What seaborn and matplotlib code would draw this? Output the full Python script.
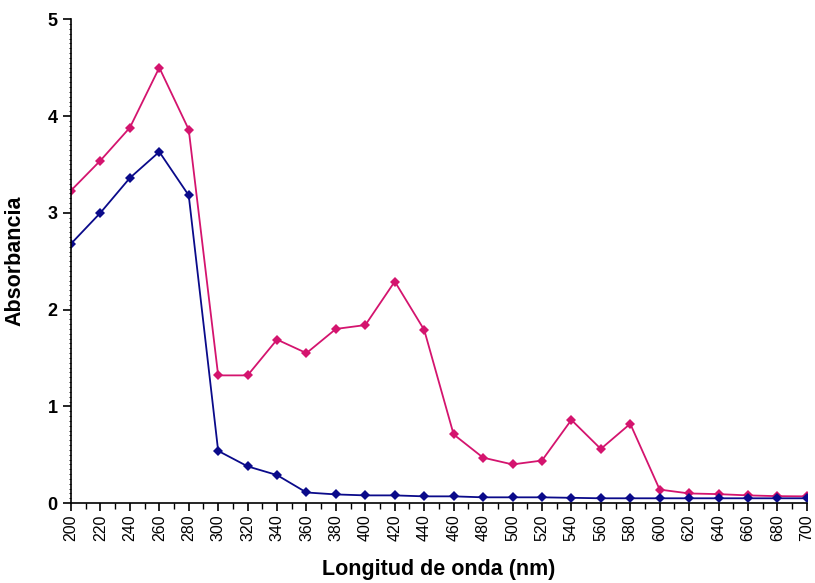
import numpy as np
import pandas as pd
import matplotlib
matplotlib.use("Agg")
import matplotlib.pyplot as plt
import seaborn as sns
from matplotlib.ticker import MultipleLocator

wavelength = list(range(200, 701, 20))

muestra_a = [3.23, 3.54, 3.88, 4.50, 3.86, 1.32, 1.32, 1.69, 1.55, 1.80,
             1.84, 2.29, 1.79, 0.71, 0.47, 0.40, 0.44, 0.86, 0.56, 0.82,
             0.14, 0.10, 0.093, 0.08, 0.072, 0.07]
muestra_b = [2.68, 3.00, 3.36, 3.63, 3.18, 0.54, 0.38, 0.29, 0.11, 0.09,
             0.08, 0.08, 0.07, 0.07, 0.06, 0.06, 0.06, 0.055, 0.05, 0.05,
             0.05, 0.05, 0.05, 0.05, 0.05, 0.05]

series_names = ["A", "B"]
series_colors = {"A": "#D4146E", "B": "#0A0A8A"}

df = pd.DataFrame({
    "Longitud de onda (nm)": wavelength * 2,
    "Absorbancia": muestra_a + muestra_b,
    "serie": ["A"] * len(wavelength) + ["B"] * len(wavelength),
})

sns.set_style("ticks")
plt.rcParams["font.family"] = ["Liberation Sans", "DejaVu Sans"]
plt.rcParams["text.color"] = "black"
plt.rcParams["axes.labelcolor"] = "black"
plt.rcParams["xtick.color"] = "black"
plt.rcParams["ytick.color"] = "black"

fig = plt.figure(figsize=(8.15, 5.83), dpi=100)
ax = fig.add_axes([0.0871, 0.137, 0.9029, 0.830])

sns.lineplot(data=df, x="Longitud de onda (nm)", y="Absorbancia",
             hue="serie", hue_order=series_names, palette=series_colors,
             marker="D", markersize=5, markeredgewidth=0, linewidth=1.3,
             legend=False, ax=ax)

ax.set_xlim(200, 700)
ax.set_ylim(0, 5)
ax.set_xticks(wavelength)
ax.set_xticklabels([str(w) for w in wavelength], rotation=90, fontsize=11.5)
ax.xaxis.set_minor_locator(MultipleLocator(10))
ax.set_yticks([0, 1, 2, 3, 4, 5])
ax.yaxis.set_minor_locator(MultipleLocator(0.05))
for lbl in ax.get_yticklabels():
    lbl.set_fontweight("bold")
    lbl.set_fontsize(13)

ax.tick_params(axis="both", which="major", length=6, width=1.2, direction="out", color="black", labelcolor="black")
ax.tick_params(axis="x", which="minor", length=4, width=1.0, direction="out", color="black")
ax.tick_params(axis="y", which="minor", length=1.5, width=0.6, direction="out", color="black")
ax.tick_params(axis="x", which="major", pad=2)

sns.despine(ax=ax)
for side in ["left", "bottom"]:
    ax.spines[side].set_linewidth(1.2)
    ax.spines[side].set_color("black")

ax.set_xlabel("Longitud de onda (nm)", fontsize=15.5, fontweight="bold", labelpad=13, color="black")
ax.set_ylabel("Absorbancia", fontsize=15.5, fontweight="bold", labelpad=16, color="black")

fig.savefig("out.png", dpi=100)
